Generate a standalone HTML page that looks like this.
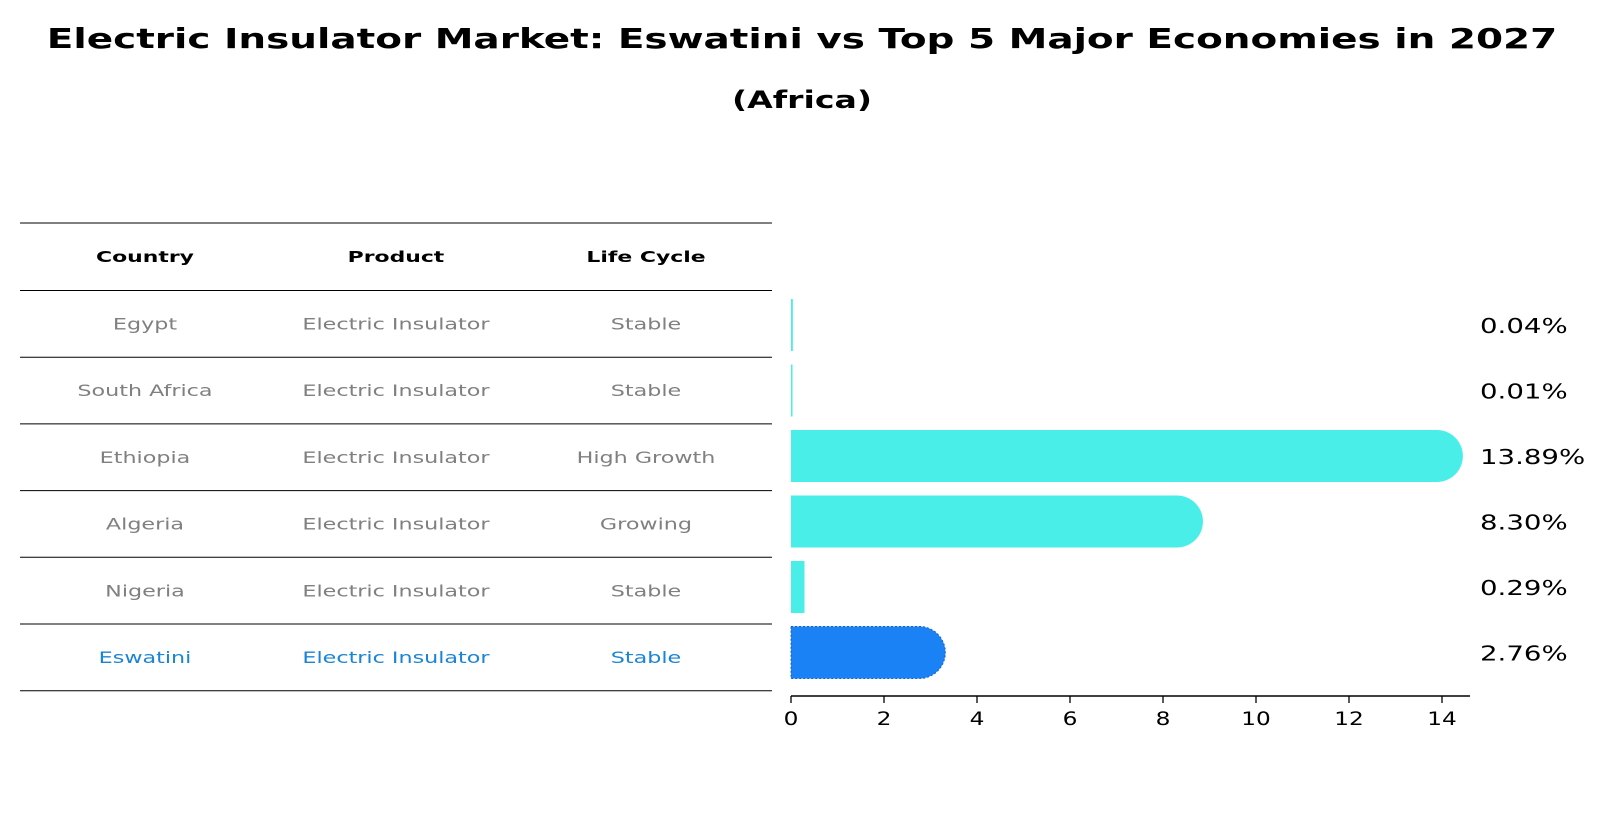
<!DOCTYPE html>
<html><head><meta charset="utf-8"><style>
body{margin:0;background:#fff;}
svg{display:block;font-family:"DejaVu Sans","Liberation Sans",sans-serif;}
</style></head><body>
<svg id="c" width="1604" height="823" viewBox="0 0 1604 823">
<text id="ttl" x="802" y="48" text-anchor="middle" font-size="28" font-weight="bold">Electric Insulator Market: Eswatini vs Top 5 Major Economies in 2027</text>
<text id="sub" x="802" y="108" text-anchor="middle" font-size="24" font-weight="bold">(Africa)</text>
<g id="table"></g>
<g id="bars"></g>
</svg>
<script>
const countries=["Egypt","South Africa","Ethiopia","Algeria","Nigeria","Eswatini"];
const products=["Electric Insulator","Electric Insulator","Electric Insulator","Electric Insulator","Electric Insulator","Electric Insulator"];
const lifeCycles=["Stable","Stable","High Growth","Growing","Stable","Stable"];
const values=[0.04,0.01,13.89,8.30,0.29,2.76];
const valueLabels=["0.04%","0.01%","13.89%","8.30%","0.29%","2.76%"];
const xTicks=[0,2,4,6,8,10,12,14];
const highlight="Eswatini";

const NS="http://www.w3.org/2000/svg";
function mk(tag,attrs,parent,txt){const e=document.createElementNS(NS,tag);for(const k in attrs)e.setAttribute(k,attrs[k]);if(txt!==undefined)e.textContent=txt;parent.appendChild(e);return e;}
function widen(t,f){const w=t.getComputedTextLength();if(w>0){t.setAttribute('textLength',(w*f).toFixed(1));t.setAttribute('lengthAdjust','spacingAndGlyphs');}}
const x0=791,xs=46.5,xScale=v=>x0+v*xs;
const rowY=i=>325+i*65.5;
const tbl=document.getElementById('table'),bars=document.getElementById('bars');
widen(document.getElementById('ttl'),1.39);
widen(document.getElementById('sub'),1.38);

// table
const lineYs=[223,290.5];
for(let i=1;i<=countries.length;i++)lineYs.push(290.5+i*66.7);
lineYs.forEach((y,i)=>{const l=mk('line',{x1:20,x2:772,y1:y,y2:y,stroke:'#000','stroke-width':1},tbl);

});
const colX=[145,396,646];
["Country","Product","Life Cycle"].forEach((h,j)=>{const t=mk('text',{x:colX[j],y:262,'text-anchor':'middle','font-size':15,'font-weight':'bold'},tbl,h);


widen(t,1.46);});
countries.forEach((c,i)=>{
  const cy=323.5+i*66.7+6;
  const col=c===highlight?'#1a85d6':'#808080';
  [c,products[i],lifeCycles[i]].forEach((v,j)=>{const t=mk('text',{x:colX[j],y:cy,'text-anchor':'middle','font-size':16,fill:col},tbl,v);
  
  
  widen(t,1.39);});
});

// bars
const bh=52,r=26;
values.forEach((v,i)=>{
  const cy=rowY(i),w=xScale(v)-x0;
  const hi=countries[i]===highlight;
  const fill=hi?'#1a82f5':'#4aeee9';
  let d;
  if(w>r){d=`M${x0},${cy-bh/2}H${x0+w}A${r},${r} 0 0 1 ${x0+w},${cy+bh/2}H${x0}Z`;}
  else{d=`M${x0},${cy-bh/2}H${x0+Math.max(w,1.5)}V${cy+bh/2}H${x0}Z`;}
  const p=mk('path',{d:d,fill:fill},bars);
  if(hi){p.setAttribute('stroke','#1565c0');p.setAttribute('stroke-width','1');p.setAttribute('stroke-dasharray','2,2');}
  
  
  const t=mk('text',{x:1480,y:cy+8,'font-size':20,fill:'#000'},bars,valueLabels[i]);
  
  
  widen(t,1.38);
});
// axis
const ax=mk('line',{x1:x0,x2:1470,y1:696,y2:696,stroke:'#000','stroke-width':1.5},bars);


xTicks.forEach(t=>{
  const x=xScale(t);
  const tk=mk('line',{x1:x,x2:x,y1:696,y2:703,stroke:'#000','stroke-width':1.3},bars);
  
  
  const lb=mk('text',{x:x,y:725,'text-anchor':'middle','font-size':19},bars,String(t));
  
  
  widen(lb,1.22);
});
</script>
</body></html>
